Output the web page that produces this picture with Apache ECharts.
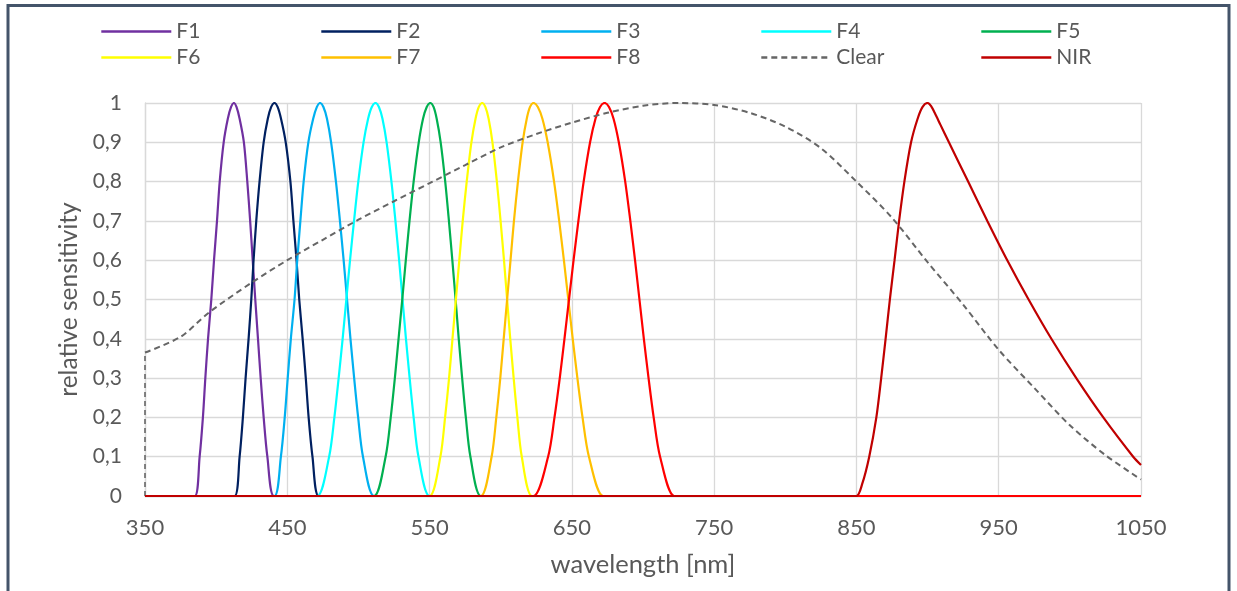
<!DOCTYPE html>
<html><head><meta charset="utf-8">
<script src="https://cdn.jsdelivr.net/npm/echarts@6/dist/echarts.min.js"></script>
<style>html,body{margin:0;padding:0;background:#fff}#c{width:1237px;height:591px}</style>
</head><body><div id="c"></div>
<script>
// relative sensitivity levels used for the filter curves (rise: ascending; fall: read in reverse)
const levels = [0, 0.1, 0.2, 0.3, 0.4, 0.5, 0.6, 0.7, 0.8, 0.9, 0.96, 0.99, 1];

// wavelength [nm] at which each filter reaches each level on its rising edge
const f1Rise = [385, 388.4, 390.7, 392.4, 394.3, 396.6, 398.5, 400.6, 402.5, 405.3, 408.2, 410.5, 412.5];
const f2Rise = [413, 416.5, 418.8, 420.7, 422.8, 424.7, 426.3, 428.2, 430.5, 433.4, 436.3, 438.7, 441];
const f3Rise = [441, 445.5, 448.2, 450.3, 452.5, 455.1, 457.0, 459.2, 461.5, 464.8, 468.2, 470.8, 473];
const f4Rise = [471, 479.4, 483.1, 486.1, 488.9, 491.5, 494.1, 496.9, 499.9, 503.6, 506.8, 509.4, 512];
const f5Rise = [511, 519.1, 522.7, 525.6, 528.2, 530.8, 533.3, 535.9, 538.8, 542.4, 545.4, 548.0, 550.5];
const f6Rise = [550, 557.6, 560.9, 563.7, 566.1, 568.5, 570.9, 573.3, 576.1, 579.4, 582.3, 584.6, 587];
const f7Rise = [586, 593.6, 596.9, 599.7, 602.1, 604.5, 606.9, 609.3, 612.1, 615.4, 618.3, 620.6, 623];
const f8Rise = [623, 633.3, 637.8, 641.5, 644.8, 648.0, 651.2, 654.6, 658.3, 662.8, 666.6, 669.8, 673];

// wavelength [nm] on the falling edge, from the peak (level 1) down to level 0
const f1Fall = [412.5, 414.3, 416.5, 419.5, 421.9, 423.9, 425.7, 427.5, 429.4, 431.3, 433.4, 436.0, 440.6];
const f2Fall = [441, 443.2, 445.6, 448.9, 452.2, 454.3, 456.5, 458.4, 460.8, 463.0, 465.0, 467.7, 472];
const f3Fall = [473, 475.4, 477.9, 480.8, 484.2, 487.0, 489.6, 492.0, 494.4, 497.0, 499.8, 503.2, 511];
const f4Fall = [512, 514.4, 516.9, 519.8, 523.2, 526.0, 528.6, 531.0, 533.4, 536.0, 538.8, 542.2, 550];
const f5Fall = [550.5, 552.8, 555.0, 557.8, 561.0, 563.6, 566.0, 568.3, 570.5, 572.9, 575.5, 578.7, 586];
const f6Fall = [587, 589.2, 591.5, 594.2, 597.3, 599.9, 602.3, 604.5, 606.7, 609.1, 611.7, 614.8, 622];
const f7Fall = [623, 626.1, 629.3, 633.0, 637.5, 641.1, 644.4, 647.5, 650.6, 653.9, 657.5, 662.0, 672];
const f8Fall = [673, 676.1, 679.3, 683.0, 687.5, 691.1, 694.4, 697.5, 700.6, 703.9, 707.5, 712.0, 722];

// NIR and Clear as [wavelength, relative sensitivity]
const nirData = [[350,0],[842,0],[850,0],[854,0.03],[859,0.1],[864,0.2],[867.4,0.3],[870.5,0.4],[873.5,0.5],[876.8,0.6],[880,0.7],[883.7,0.8],[888.4,0.9],[893,0.96],[896.5,0.99],[900,1],[902.5,0.992],[905,0.975],[909,0.945],[915,0.9],[928.5,0.8],[942,0.7],[956,0.6],[971,0.5],[987,0.4],[1004.5,0.3],[1023.5,0.2],[1044.5,0.1],[1050,0.079]];
const clearEdge = [[350,0],[350,0.365]];
const clearData = [[350,0.365],[375,0.405],[395,0.467],[425,0.543],[450,0.60],[475,0.652],[500,0.703],[525,0.75],[550,0.796],[575,0.842],[600,0.887],[625,0.921],[650,0.95],[675,0.975],[700,0.993],[725,1.0],[750,0.995],[775,0.975],[800,0.94],[825,0.885],[850,0.80],[875,0.708],[900,0.595],[925,0.487],[950,0.372],[975,0.275],[1000,0.18],[1025,0.104],[1050,0.042]];

const seriesNames = ['F1','F2','F3','F4','F5','F6','F7','F8','Clear','NIR'];
const seriesColors = ['#7030A0','#002060','#00B0F0','#00FFFF','#00B050','#FFFF00','#FFC000','#FF0000','#666666','#C00000'];
const xMin = 350, xMax = 1050, xStep = 100;
const yMin = 0, yMax = 1, yStep = 0.1;

function band(rise, fall) {
  const pts = [[xMin, 0], [rise[0] - 8, 0]];
  rise.forEach((x, i) => pts.push([x, levels[i]]));
  fall.forEach((x, i) => { if (i > 0) pts.push([x, levels[levels.length - 1 - i]]); });
  pts.push([fall[fall.length - 1] + 8, 0]);
  pts.push([xMax, 0]);
  return pts;
}
const filterData = [
  band(f1Rise, f1Fall), band(f2Rise, f2Fall), band(f3Rise, f3Fall), band(f4Rise, f4Fall),
  band(f5Rise, f5Fall), band(f6Rise, f6Fall), band(f7Rise, f7Fall), band(f8Rise, f8Fall)
];
const allData = filterData.concat([clearData, nirData]);

const FONT = 'Lato';
const TXT = '#595959';

const series = seriesNames.map((name, i) => ({
  name: name,
  type: 'line',
  data: allData[i],
  symbol: 'none',
  smooth: 0.3,
  lineStyle: { color: seriesColors[i], width: name === 'Clear' ? 2 : 2.2, type: name === 'Clear' ? [6, 4] : 'solid' },
  itemStyle: { color: seriesColors[i] },
  z: 2 + i,
  animation: false
}));
// vertical start of the Clear curve at 350 nm (same legend entry)
series.push({
  name: 'Clear', type: 'line', data: clearEdge, symbol: 'none', smooth: false,
  lineStyle: { color: '#666666', width: 1.6, type: [5, 4] }, itemStyle: { color: '#666666' }, z: 10, animation: false
});

const legends = seriesNames.map((name, i) => ({
  data: [name],
  left: 100 + (i % 5) * 220,
  top: i < 5 ? 21 : 47,
  padding: 0,
  itemWidth: 70,
  itemHeight: 20,
  itemGap: 0,
  selectedMode: false,
  itemStyle: { color: 'rgba(0,0,0,0)', borderWidth: 0, opacity: 0 },
  lineStyle: { width: 2.6 },
  textStyle: { fontFamily: FONT, fontSize: 21, color: TXT, lineHeight: 20 }
}));

const chart = echarts.init(document.getElementById('c'), null, { renderer: 'canvas' });
chart.setOption({
  backgroundColor: '#fff',
  animation: false,
  legend: legends,
  grid: { left: 145, right: 96, top: 103, bottom: 95, containLabel: false },
  xAxis: {
    type: 'value', min: xMin, max: xMax, interval: xStep,
    name: 'wavelength [nm]', nameLocation: 'middle', nameGap: 56,
    nameTextStyle: { fontFamily: FONT, fontSize: 25.5, color: TXT },
    axisLine: { show: true, lineStyle: { color: '#D9D9D9', width: 1.3 } },
    axisTick: { show: false },
    axisLabel: { fontFamily: FONT, fontSize: 22, color: TXT, margin: 21, formatter: v => String(v) },
    splitLine: { show: true, lineStyle: { color: '#D9D9D9', width: 1.3 } }
  },
  yAxis: {
    type: 'value', min: yMin, max: yMax, interval: yStep,
    name: 'relative sensitivity', nameLocation: 'middle', nameGap: 60, nameRotate: 90,
    nameTextStyle: { fontFamily: FONT, fontSize: 24.5, color: TXT },
    axisLine: { show: true, lineStyle: { color: '#D9D9D9', width: 1.3 } },
    axisTick: { show: false },
    axisLabel: {
      fontFamily: FONT, fontSize: 21, color: TXT, margin: 23,
      formatter: v => (Math.abs(v) < 1e-9 ? '0' : Math.abs(v - 1) < 1e-9 ? '1' : v.toFixed(1).replace('.', ','))
    },
    splitLine: { show: true, lineStyle: { color: '#D9D9D9', width: 1.3 } }
  },
  graphic: [{
    type: 'rect', silent: true, z: 100,
    shape: { x: 8, y: 5.5, width: 1221, height: 640 },
    style: { fill: null, stroke: '#44546A', lineWidth: 3 }
  }],
  series: series
});
</script>
</body></html>
